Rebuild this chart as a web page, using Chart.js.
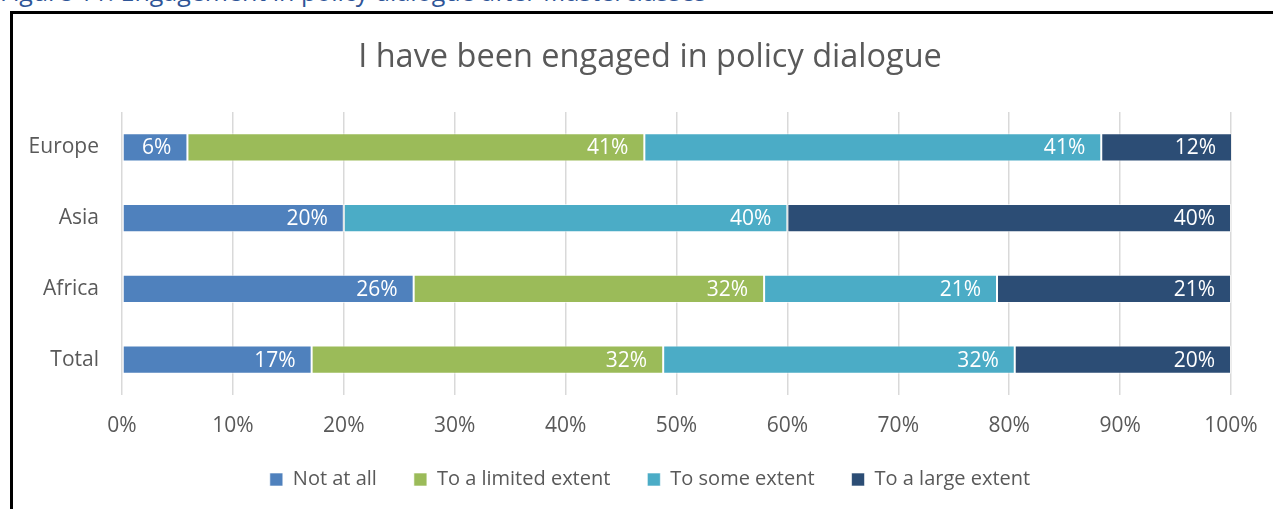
<!DOCTYPE html>
<html>
<head>
<meta charset="utf-8">
<script src="https://cdn.jsdelivr.net/npm/chart.js@4/dist/chart.umd.min.js"></script>
<style>
  html, body { margin: 0; padding: 0; background: #fff; width: 1273px; height: 509px; overflow: hidden; position: relative; }
  #caption { position: absolute; left: 0; top: -21px; font: 25px "Open Sans", sans-serif; line-height: 25px; color: #2F5597; white-space: nowrap; }
  #frame { position: absolute; left: 10px; top: 11px; width: 1400px; height: 600px; border-left: 3px solid #000; border-top: 3px solid #000; }
  #wrap { position: absolute; left: 14px; top: 14px; width: 1272px; height: 495px; }
</style>
</head>
<body>
<div id="caption">Figure 11: Engagement in policy dialogue after Masterclasses</div>
<div id="frame"></div>
<div id="wrap"><canvas id="c"></canvas></div>
<script>
const categories = ["Europe", "Asia", "Africa", "Total"];
const notAtAll = [5.9, 20.0, 26.3, 17.1];
const limitedExtent = [41.2, 0, 31.6, 31.7];
const someExtent = [41.2, 40.0, 21.0, 31.7];
const largeExtent = [11.8, 40.0, 21.1, 19.5];
const seriesNames = ["Not at all", "To a limited extent", "To some extent", "To a large extent"];
const xTicks = [0, 10, 20, 30, 40, 50, 60, 70, 80, 90, 100];
const titleText = "I have been engaged in policy dialogue";

const colors = ["#4F81BD", "#9BBB59", "#4BACC6", "#2C4D75"];
const FONT = '"Open Sans", "Noto Sans", sans-serif';

const segLabels = {
  id: 'segLabels',
  afterDatasetsDraw(chart) {
    const ctx = chart.ctx;
    chart.data.datasets.forEach((ds, i) => {
      const meta = chart.getDatasetMeta(i);
      meta.data.forEach((bar, j) => {
        const v = ds.data[j];
        if (!v) return;
        ctx.save();
        ctx.fillStyle = '#ffffff';
        ctx.font = '21px ' + FONT;
        ctx.textAlign = 'right';
        ctx.textBaseline = 'middle';
        ctx.fillText(Math.round(v) + '%', bar.x - 16, bar.y + 1);
        ctx.restore();
      });
    });
  }
};

const seriesData = [notAtAll, limitedExtent, someExtent, largeExtent];
new Chart(document.getElementById('c'), {
  type: 'bar',
  data: {
    labels: categories,
    datasets: seriesData.map((d, i) => ({
      label: seriesNames[i],
      data: d,
      backgroundColor: colors[i],
      borderColor: 'rgba(255,255,255,0.6)',
      borderWidth: 1,
      borderSkipped: false,
      barPercentage: 0.4,
      categoryPercentage: 1.0
    }))
  },
  options: {
    indexAxis: 'y',
    responsive: true,
    maintainAspectRatio: false,
    animation: false,
    layout: { padding: { left: 0, right: 0, top: 0, bottom: 9.5 } },
    scales: {
      x: {
        stacked: true,
        min: 0, max: 100,
        afterBuildTicks(scale) { scale.ticks = xTicks.map(v => ({ value: v })); },
        afterFit(scale) { scale.height = 37.5; },
        ticks: { callback: v => v + '%', color: '#595959', font: { family: FONT, size: 21 }, padding: -43.6, mirror: true, maxRotation: 0 },
        grid: { color: '#D9D9D9', lineWidth: 1.5, drawTicks: false },
        border: { display: false }
      },
      y: {
        stacked: true,
        afterFit(scale) { scale.width = 108; },
        ticks: { color: '#595959', font: { family: FONT, size: 21 }, padding: 23 },
        grid: { display: false, drawTicks: false },
        border: { display: false }
      },
      yRight: {
        type: 'linear',
        axis: 'y',
        position: 'right',
        min: 0, max: 1,
        afterFit(scale) { scale.width = 55; },
        ticks: { display: false },
        grid: { display: false, drawTicks: false },
        border: { display: false }
      }
    },
    plugins: {
      title: {
        display: true,
        text: titleText,
        color: '#595959',
        font: { family: FONT, size: 32.5, weight: 'normal' },
        padding: { top: 24, bottom: 35 }
      },
      legend: {
        position: 'bottom',
        labels: {
          color: '#595959',
          font: { family: FONT, size: 20 },
          boxWidth: 13,
          boxHeight: 13,
          padding: 37
        }
      },
      tooltip: { enabled: false }
    }
  },
  plugins: [segLabels]
});
</script>
</body>
</html>
